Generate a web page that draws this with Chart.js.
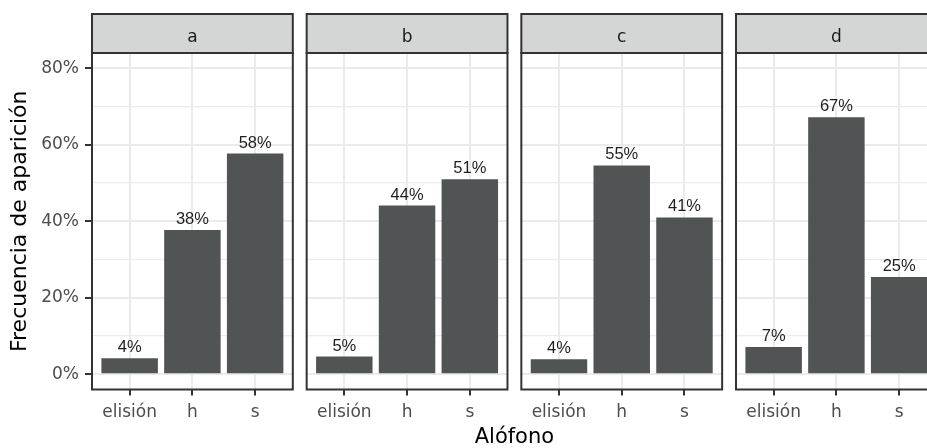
<!DOCTYPE html>
<html><head><meta charset="utf-8">
<script src="https://cdn.jsdelivr.net/npm/chart.js@4/dist/chart.umd.min.js"></script>
<style>
html,body{margin:0;padding:0;background:#fff;overflow:hidden;}
#wrap{position:relative;width:927px;height:448px;overflow:hidden;background:#fff;}
#c{position:absolute;left:0;top:0;}
</style></head><body>
<div id="wrap"><canvas id="c" width="950" height="448"></canvas></div>
<script>
// ---- data ----
const panels = ['a', 'b', 'c', 'd'];
const categories = ['elisión', 'h', 's'];
const valuesA = [4.2, 37.7, 57.7];
const valuesB = [4.6, 44.1, 51.0];
const valuesC = [3.9, 54.6, 41.0];
const valuesD = [7.1, 67.2, 25.4];
const yTicks = [0, 10, 20, 30, 40, 50, 60, 70, 80];
const yLabelTicks = [0, 20, 40, 60, 80];
const yTitle = 'Frecuencia de aparición';
const xTitle = 'Alófono';

// ---- layout helpers (facet geometry in axis units) ----
const panelValues = [valuesA, valuesB, valuesC, valuesD];
const EXP = 0.6;                 // discrete axis expansion on each side
const PERIOD = 3.421;            // panel width (3.2 units) + spacing between panels
const xPos = (p, j) => p * PERIOD + j + 1;
const points = [];
const labelsTxt = [];
panelValues.forEach((vals, p) => vals.forEach((v, j) => {
  points.push({ x: xPos(p, j), y: v });
  labelsTxt.push(Math.round(v) + '%');
}));
const tickPositions = [];
panels.forEach((_, p) => categories.forEach((_, j) => tickPositions.push(xPos(p, j))));
const xMin = 1 - EXP;
const xMax = (panels.length - 1) * PERIOD + categories.length + EXP;

const BORDER = '#333333';
const STRIP_FILL = '#D4D6D6';
const STRIP_TOP = 14;

const facetPlugin = {
  id: 'facet',
  beforeDatasetsDraw(chart) {
    const { ctx, chartArea: ca, scales: { x } } = chart;
    ctx.save();
    ctx.fillStyle = '#ffffff';
    for (let p = 0; p < panels.length - 1; p++) {
      const l = x.getPixelForValue(p * PERIOD + categories.length + EXP);
      const r = x.getPixelForValue((p + 1) * PERIOD + 1 - EXP);
      ctx.fillRect(l + 1, ca.top - 2, r - l - 2, ca.bottom - ca.top + 4);
    }
    ctx.restore();
  },
  afterDatasetsDraw(chart) {
    const { ctx, chartArea: ca, scales: { x } } = chart;
    ctx.save();
    // bar value labels
    const meta = chart.getDatasetMeta(0);
    ctx.fillStyle = '#1E1E1E';
    ctx.font = '16.5px "Liberation Sans", Arial, sans-serif';
    ctx.textAlign = 'center';
    ctx.textBaseline = 'alphabetic';
    meta.data.forEach((bar, i) => {
      ctx.fillText(labelsTxt[i], bar.x, bar.y - 6);
    });
    // panel borders and strips
    panels.forEach((name, p) => {
      const l = x.getPixelForValue(p * PERIOD + 1 - EXP);
      const r = x.getPixelForValue(p * PERIOD + categories.length + EXP);
      ctx.lineWidth = 2;
      ctx.strokeStyle = BORDER;
      ctx.strokeRect(l, ca.top, r - l, ca.bottom - ca.top);
      ctx.fillStyle = STRIP_FILL;
      ctx.fillRect(l, STRIP_TOP, r - l, ca.top - STRIP_TOP);
      ctx.strokeRect(l, STRIP_TOP, r - l, ca.top - STRIP_TOP);
      ctx.fillStyle = '#1A1A1A';
      ctx.font = '17px "DejaVu Sans", sans-serif';
      ctx.textAlign = 'center';
      ctx.textBaseline = 'alphabetic';
      ctx.fillText(name, (l + r) / 2, 41.5);
    });
    ctx.restore();
  }
};

new Chart(document.getElementById('c'), {
  type: 'bar',
  data: {
    datasets: [{
      data: points,
      backgroundColor: '#515455',
      borderWidth: 0,
      barPercentage: 0.9,
      categoryPercentage: 1.0
    }]
  },
  options: {
    responsive: false,
    animation: false,
    devicePixelRatio: 1,
    layout: { padding: { left: 0, top: 53, right: 13.2, bottom: 0 } },
    plugins: { legend: { display: false }, tooltip: { enabled: false } },
    scales: {
      x: {
        type: 'linear',
        offset: false,
        min: xMin,
        max: xMax,
        afterBuildTicks: axis => { axis.ticks = tickPositions.map(v => ({ value: v })); },
        afterFit: s => { s.height = 58.5; s.paddingLeft = 0; s.paddingRight = 0; },
        border: { display: false },
        grid: {
          offset: false,
          color: '#EBEBEB', lineWidth: 2,
          drawTicks: true, tickLength: 6, tickColor: BORDER, tickWidth: 2
        },
        ticks: {
          autoSkip: false, maxRotation: 0, minRotation: 0, padding: 7,
          color: '#4D4D4D',
          font: { family: '"DejaVu Sans", sans-serif', size: 17 },
          callback: (v, i) => categories[i % categories.length]
        },
        title: {
          display: true, text: xTitle, color: '#000000',
          font: { family: '"DejaVu Sans", sans-serif', size: 21, lineHeight: 1 },
          padding: { top: 0, bottom: 0 }
        }
      },
      y: {
        type: 'linear',
        min: -4,
        max: 84,
        afterBuildTicks: axis => { axis.ticks = yTicks.map(v => ({ value: v })); },
        afterFit: s => { s.width = 92; },
        border: { display: false },
        grid: {
          color: '#EBEBEB',
          lineWidth: c => (yLabelTicks.includes(c.tick && c.tick.value) ? 2 : 1.2),
          drawTicks: true, tickLength: 7, tickWidth: 2,
          tickColor: c => (yLabelTicks.includes(c.tick && c.tick.value) ? BORDER : 'rgba(0,0,0,0)')
        },
        ticks: {
          autoSkip: false, padding: 6, color: '#4D4D4D',
          font: { family: '"DejaVu Sans", sans-serif', size: 17 },
          callback: v => (yLabelTicks.includes(v) ? v + '%' : '')
        },
        title: {
          display: true, text: yTitle, color: '#000000',
          font: { family: '"DejaVu Sans", sans-serif', size: 22, lineHeight: 1 },
          padding: { top: 9, bottom: 0 }
        }
      }
    }
  },
  plugins: [facetPlugin]
});
</script>
</body></html>
